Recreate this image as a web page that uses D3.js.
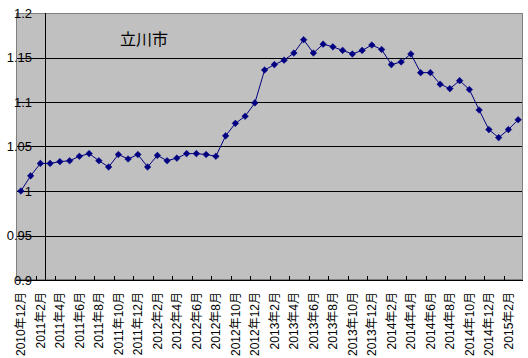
<!DOCTYPE html>
<html>
<head>
<meta charset="utf-8">
<script src="https://cdn.jsdelivr.net/npm/d3@7"></script>
<style>
  html, body { margin: 0; padding: 0; background: #fff; }
  svg { display: block; }
</style>
</head>
<body>
<svg id="chart" width="528" height="358"></svg>
<script>
const title = "立川市";
const categories = [
  "2010年12月","2011年1月","2011年2月","2011年3月","2011年4月","2011年5月","2011年6月","2011年7月",
  "2011年8月","2011年9月","2011年10月","2011年11月","2011年12月","2012年1月","2012年2月","2012年3月",
  "2012年4月","2012年5月","2012年6月","2012年7月","2012年8月","2012年9月","2012年10月","2012年11月",
  "2012年12月","2013年1月","2013年2月","2013年3月","2013年4月","2013年5月","2013年6月","2013年7月",
  "2013年8月","2013年9月","2013年10月","2013年11月","2013年12月","2014年1月","2014年2月","2014年3月",
  "2014年4月","2014年5月","2014年6月","2014年7月","2014年8月","2014年9月","2014年10月","2014年11月",
  "2014年12月","2015年1月","2015年2月","2015年3月"
];
const values = [
  1.000, 1.017, 1.031, 1.031, 1.033, 1.034, 1.039, 1.042,
  1.034, 1.027, 1.041, 1.036, 1.041, 1.027, 1.040, 1.034,
  1.037, 1.042, 1.042, 1.041, 1.039, 1.062, 1.076, 1.084,
  1.099, 1.136, 1.142, 1.147, 1.155, 1.170, 1.155, 1.165,
  1.162, 1.158, 1.154, 1.158, 1.164, 1.159, 1.142, 1.145,
  1.154, 1.133, 1.133, 1.120, 1.115, 1.124, 1.114, 1.091,
  1.069, 1.060, 1.069, 1.080
];
const yTicks = [0.9, 0.95, 1, 1.05, 1.1, 1.15, 1.2];

const svg = d3.select("#chart");
const L = 16, R = 523, T = 13, B = 280;

const x = d3.scaleBand().domain(categories).range([L, R]).paddingInner(0).paddingOuter(0);
const y = d3.scaleLinear().domain([0.9, 1.2]).range([B, T]);
const bw = x.bandwidth();

// plot area
svg.append("rect").attr("x", L + 0.5).attr("y", T + 0.5)
  .attr("width", R - L - 1).attr("height", B - T - 1)
  .attr("fill", "#c0c0c0").attr("stroke", "#808080").attr("stroke-width", 1);

// gridlines
svg.append("g").selectAll("line").data(yTicks.filter(d => d > 0.9 && d < 1.2)).join("line")
  .attr("x1", L + 1).attr("x2", R - 1)
  .attr("y1", d => Math.round(y(d)) + 0.5).attr("y2", d => Math.round(y(d)) + 0.5)
  .attr("stroke", "#000").attr("stroke-width", 1);

// vertical value axis crossing between category 2 and 3
const axisX = Math.round(L + 3 * bw) + 0.5;
svg.append("line").attr("x1", axisX).attr("x2", axisX).attr("y1", T).attr("y2", B)
  .attr("stroke", "#000").attr("stroke-width", 1);

// bottom axis
svg.append("line").attr("x1", L).attr("x2", R).attr("y1", B + 0.5).attr("y2", B + 0.5)
  .attr("stroke", "#000").attr("stroke-width", 1);

// x ticks (every 2 categories boundaries, pointing up)
const tickIdx = d3.range(2, categories.length, 2);
svg.append("g").selectAll("line").data(tickIdx).join("line")
  .attr("x1", i => Math.round(L + i * bw) + 0.5).attr("x2", i => Math.round(L + i * bw) + 0.5)
  .attr("y1", B - 4).attr("y2", B)
  .attr("stroke", "#000").attr("stroke-width", 1);

// y labels
svg.append("g").selectAll("text").data(yTicks).join("text")
  .attr("x", 32).attr("y", d => y(d))
  .attr("text-anchor", "end").attr("dominant-baseline", "central")
  .attr("font-family", "'Liberation Sans', Arial, sans-serif").attr("font-size", 13)
  .attr("fill", "#000")
  .text(d => d);

// x labels
const shown = categories.filter((c, i) => i % 2 === 0);
svg.append("g").selectAll("text").data(shown).join("text")
  .attr("transform", d => `translate(${x(d) + bw / 2 + 0.5},292) rotate(-90)`)
  .attr("text-anchor", "end").attr("dominant-baseline", "central")
  .attr("font-family", "'Liberation Sans', 'Noto Sans CJK JP', sans-serif").attr("font-size", 12)
  .attr("fill", "#000")
  .text(d => d);

// line
const line = d3.line().x((d, i) => x(categories[i]) + bw / 2).y(d => y(d));
svg.append("path").datum(values).attr("d", line)
  .attr("fill", "none").attr("stroke", "#000080").attr("stroke-width", 1);

// diamond markers
const diamond = d3.symbol().type(d3.symbolDiamond2).size(28);
svg.append("g").selectAll("path").data(values).join("path")
  .attr("transform", (d, i) => `translate(${x(categories[i]) + bw / 2},${y(d)})`)
  .attr("d", diamond)
  .attr("fill", "#000080").attr("stroke", "#000080").attr("stroke-width", 0.5);

// title
svg.append("text").attr("x", 120).attr("y", 45)
  .attr("font-family", "'Noto Sans CJK JP', sans-serif").attr("font-size", 16)
  .attr("fill", "#000").text(title);
</script>
</body>
</html>
